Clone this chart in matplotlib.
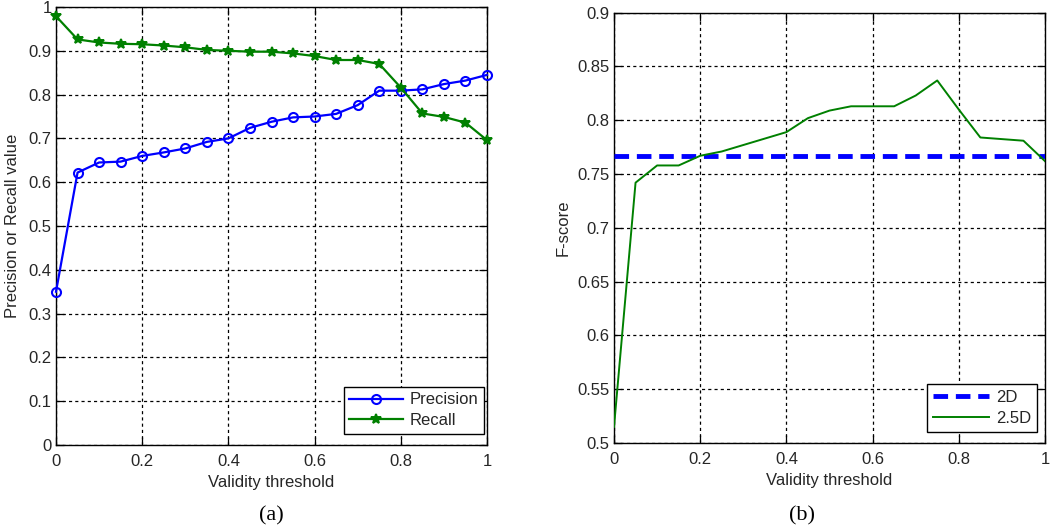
import matplotlib
matplotlib.use("Agg")
import matplotlib.pyplot as plt

# ---- data ----
thresholds = [0.0, 0.05, 0.1, 0.15, 0.2, 0.25, 0.3, 0.35, 0.4, 0.45, 0.5,
              0.55, 0.6, 0.65, 0.7, 0.75, 0.8, 0.85, 0.9, 0.95, 1.0]
precision = [0.35, 0.622, 0.645, 0.647, 0.660, 0.668, 0.677, 0.692, 0.700, 0.724, 0.738,
             0.748, 0.750, 0.756, 0.776, 0.809, 0.809, 0.812, 0.824, 0.832, 0.845]
recall = [0.979, 0.926, 0.919, 0.916, 0.915, 0.912, 0.908, 0.902, 0.900, 0.898, 0.898,
          0.894, 0.888, 0.879, 0.879, 0.870, 0.816, 0.757, 0.749, 0.736, 0.696]
fscore_2d = 0.767
fscore_25d = [0.515, 0.742, 0.758, 0.758, 0.767, 0.771, 0.777, 0.783, 0.789, 0.802, 0.809,
              0.813, 0.813, 0.813, 0.823, 0.837, 0.810, 0.784, 0.7825, 0.781, 0.762]

left_yticks = [0, 0.1, 0.2, 0.3, 0.4, 0.5, 0.6, 0.7, 0.8, 0.9, 1]
left_yticklabels = ["0", "0.1", "0.2", "0.3", "0.4", "0.5", "0.6", "0.7", "0.8", "0.9", "1"]
right_yticks = [0.5, 0.55, 0.6, 0.65, 0.7, 0.75, 0.8, 0.85, 0.9]
right_yticklabels = ["0.5", "0.55", "0.6", "0.65", "0.7", "0.75", "0.8", "0.85", "0.9"]
xticks = [0, 0.2, 0.4, 0.6, 0.8, 1]
xticklabels = ["0", "0.2", "0.4", "0.6", "0.8", "1"]

plt.rcParams['font.family'] = ['Liberation Sans', 'DejaVu Sans']

BLUE = (0, 0, 1)
GREEN = (0, 0.5, 0)
TXT = '#262626'
FS = 12

fig = plt.figure(figsize=(10.5, 5.29), dpi=100)
axA = fig.add_axes([56/1050, (529-445)/529, 431/1050, 438/529])
axB = fig.add_axes([614/1050, (529-443)/529, 431/1050, 430.3/529])


def style(ax):
    ax.grid(True, color='black', linestyle=(0, (2.5, 2.5)), linewidth=0.9)
    ax.set_axisbelow(True)
    ax.tick_params(direction='in', length=6, width=0.9, top=True, right=True,
                   labelsize=FS, labelcolor=TXT)
    ax.tick_params(axis='x', pad=6.5)
    ax.tick_params(axis='y', pad=3)
    for s in ax.spines.values():
        s.set_linewidth(1.0)
        s.set_color('black')
    ax.set_xlim(0, 1)
    ax.set_xticks(xticks)
    ax.set_xticklabels(xticklabels)


# ---- panel (a) ----
style(axA)
axA.plot(thresholds, precision, color=BLUE, lw=1.6, marker='o', ms=6.5,
         mfc='none', mew=1.5, label='Precision', clip_on=False, zorder=3)
axA.plot(thresholds, recall, color=GREEN, lw=1.6, marker='*', ms=7,
         mfc=GREEN, mew=1.4, label='Recall', clip_on=False, zorder=3)
axA.set_ylim(0, 1)
axA.set_yticks(left_yticks)
axA.set_yticklabels(left_yticklabels)
axA.set_xlabel('Validity threshold', fontsize=FS, color=TXT, labelpad=4)
axA.set_ylabel('Precision or Recall value', fontsize=FS, color=TXT, labelpad=6)
legA = axA.legend(loc='lower right', bbox_to_anchor=(0.993, 0.025), fontsize=FS,
                  frameon=True, fancybox=False, edgecolor='black', framealpha=1,
                  handlelength=3.2, borderaxespad=0, labelspacing=0.35,
                  handletextpad=0.4, borderpad=0.35)
legA.get_frame().set_linewidth(1.0)
for t in legA.get_texts():
    t.set_color(TXT)

# ---- panel (b) ----
style(axB)
axB.axhline(fscore_2d, color=BLUE, lw=3.5, linestyle=(0, (3, 1.6)), label='2D', zorder=3)
axB.plot(thresholds, fscore_25d, color=GREEN, lw=1.4, label='2.5D', zorder=3)
axB.set_ylim(0.5, 0.9)
axB.set_yticks(right_yticks)
axB.set_yticklabels(right_yticklabels)
axB.set_xlabel('Validity threshold', fontsize=FS, color=TXT, labelpad=4)
axB.set_ylabel('F-score', fontsize=FS, color=TXT, labelpad=5)
legB = axB.legend(loc='lower right', bbox_to_anchor=(0.981, 0.026), fontsize=FS,
                  frameon=True, fancybox=False, edgecolor='black', framealpha=1,
                  handlelength=3.4, borderaxespad=0, labelspacing=0.35,
                  handletextpad=0.4, borderpad=0.35)
legB.get_frame().set_linewidth(1.0)
for t in legB.get_texts():
    t.set_color(TXT)

# captions
fig.text(271/1050, 1 - 516/529, '(a)', ha='center', va='center',
         fontsize=16, family=['Liberation Serif', 'DejaVu Serif'])
fig.text(802/1050, 1 - 516/529, '(b)', ha='center', va='center',
         fontsize=16, family=['Liberation Serif', 'DejaVu Serif'])

fig.savefig('out.png', dpi=100)
